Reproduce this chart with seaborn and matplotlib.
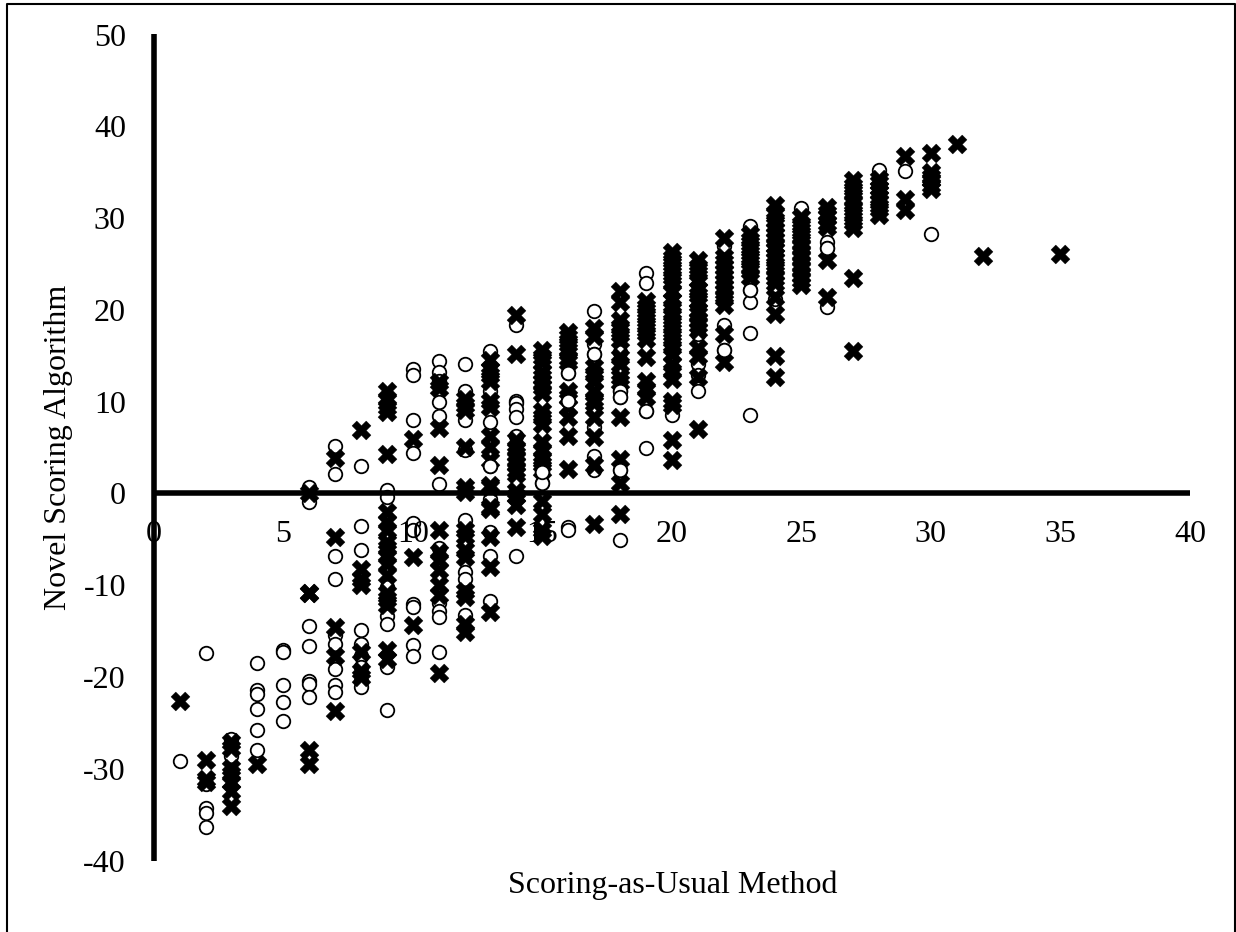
import matplotlib
matplotlib.use("Agg")
import pandas as pd
import seaborn as sns
import matplotlib.pyplot as plt
from matplotlib.lines import Line2D

# x scores, one entry per column of points
scores = list(range(1, 33)) + [35]

# novel algorithm values, column by column
circle_vals = [
    [-29.2],
    [-17.4, -31.7, -34.3, -34.8, -36.3],
    [-26.8, -28.6],
    [-18.5, -21.4, -21.9, -23.5, -25.8, -28.0],
    [-17.1, -17.3, -20.9, -22.7, -24.8],
    [0.7, -0.9, -14.4, -16.6, -20.4, -20.8, -22.2],
    [5.2, 2.1, -6.8, -9.3, -15.4, -16.4, -19.1, -20.9, -21.6],
    [3.0, -3.5, -6.2, -14.9, -16.4, -17.7, -18.9, -20.4, -21.1],
    [0.4, -0.4, -10.2, -13.4, -14.2, -18.9, -23.6],
    [13.5, 12.9, 8.0, 4.4, -3.2, -4.0, -12.0, -12.4, -16.5, -17.7],
    [14.4, 13.2, 12.3, 10.0, 8.4, 1.0, -5.9, -11.9, -12.8, -13.5, -17.3],
    [14.1, 11.2, 8.0, 4.7, -2.9, -8.6, -9.3, -13.3],
    [15.5, 11.2, 7.8, 3.0, -0.6, -4.2, -6.8, -11.7],
    [18.3, 10.1, 9.8, 9.2, 8.3, 6.3, -6.8],
    [4.1, 2.3, 1.1],
    [13.1, 10.1, -3.7, -4.0],
    [19.9, 16.3, 15.2, 7.2, 4.1, 2.5],
    [15.4, 11.2, 10.5, 2.5, -5.1],
    [24.0, 22.9, 9.0, 5.0],
    [8.5],
    [17.4, 14.1, 12.9, 11.2],
    [27.0, 18.3, 15.6],
    [29.1, 22.2, 20.8, 17.5, 8.5],
    [22.9, 22.0, 21.2],
    [31.1, 29.6],
    [27.4, 26.7, 20.3],
    [],
    [35.2],
    [35.1],
    [28.3],
    [],
    [],
    [],
]

cross_vals = [
    [-22.6],
    [-29.0, -31.1, -31.5],
    [-27.1, -27.7, -29.9, -30.6, -31.5, -32.4, -34.1],
    [-29.5],
    [],
    [0.0, -10.9, -10.9, -28.0, -29.5],
    [3.9, -4.7, -14.6, -17.7, -23.7],
    [6.9, -8.2, -9.3, -10.0, -17.3, -19.3, -20.0],
    [11.2, 10.3, 9.4, 8.9, 4.3, -2.0, -3.1, -4.0, -5.3, -6.0, -6.8, -7.7, -8.9,
     -10.8, -11.5, -12.2, -17.1, -18.0],
    [5.9, -6.9, -14.3],
    [12.1, 11.5, 7.1, 3.1, -4.0, -6.4, -7.3, -8.4, -10.0, -11.1, -19.6],
    [10.3, 9.6, 9.1, 5.1, 0.7, 0.1, -4.0, -4.6, -6.2, -6.9, -10.6, -11.3, -14.2, -15.1],
    [14.5, 13.6, 12.9, 12.3, 10.1, 9.4, 6.3, 5.1, 3.6, 0.9, 0.7, -1.5, -1.7, -4.8, -8.0, -12.9],
    [19.4, 15.2, 5.8, 5.0, 4.3, 3.7, 3.2, 2.6, 2.1, 0.3, -0.3, -1.3, -3.7],
    [15.6, 14.9, 14.3, 13.2, 12.7, 12.1, 11.6, 10.9, 9.0, 8.3, 7.6, 5.6, 4.7, 3.9, 3.2, 2.6,
     -0.8, -2.2, -4.0, -4.6],
    [17.6, 17.0, 16.3, 15.6, 14.7, 14.3, 11.2, 10.5, 9.4, 8.3, 6.3, 2.7],
    [18.0, 17.2, 13.8, 13.0, 12.3, 11.2, 10.3, 9.8, 8.3, 6.1, 3.1, -3.3],
    [22.0, 20.9, 18.9, 18.1, 17.4, 16.7, 14.9, 14.1, 12.7, 12.1, 8.3, 3.8, 1.1, -2.2],
    [21.0, 20.3, 19.6, 18.9, 18.2, 17.5, 16.8, 14.9, 12.3, 11.4, 10.5],
    [26.3, 25.6, 25.0, 24.3, 23.6, 22.9, 22.0, 21.1, 20.3, 19.6, 18.8, 18.1, 17.4, 16.7, 15.9,
     15.2, 14.1, 13.3, 12.5, 10.1, 9.6, 5.8, 3.6],
    [25.4, 24.7, 24.0, 23.2, 22.3, 21.6, 21.0, 20.0, 19.5, 18.9, 18.3, 17.8, 15.8, 15.0, 12.7, 7.0],
    [27.8, 25.8, 25.2, 24.7, 24.1, 23.6, 23.0, 22.5, 21.9, 21.3, 20.5, 17.4, 14.3],
    [28.3, 27.6, 26.9, 26.2, 25.5, 24.8, 24.2, 23.6],
    [31.4, 30.6, 29.8, 29.2, 28.7, 28.1, 27.6, 27.0, 26.5, 26.0, 25.4, 24.7, 24.0, 23.5, 22.9,
     21.4, 19.6, 15.0, 12.7],
    [30.1, 29.4, 28.7, 28.0, 27.4, 26.8, 26.2, 25.6, 25.0, 24.4, 23.8, 23.2, 22.7],
    [31.2, 30.6, 30.1, 29.5, 29.0, 25.4, 21.4],
    [34.1, 33.5, 32.8, 32.2, 31.6, 31.0, 30.3, 29.6, 28.9, 23.5, 15.5],
    [34.3, 33.8, 33.3, 32.8, 32.3, 31.7, 31.0, 30.3],
    [36.8, 32.1, 30.9],
    [37.1, 35.0, 34.5, 34.1, 33.6, 33.2],
    [38.1],
    [25.9],
    [26.1],
]

# circles that sit in front of the crosses
front_x = [13, 15, 15, 16, 16, 17, 18, 18, 18, 19, 22, 26, 23]
front_y = [3.0, 1.1, 2.3, 13.1, 10.1, 15.2, 11.2, 10.5, 2.5, 9.0, 15.6, 26.7, 22.2]

x_ticks = [0, 5, 10, 15, 20, 25, 30, 35, 40]
y_ticks = [-40, -30, -20, -10, 0, 10, 20, 30, 40, 50]

circles = pd.DataFrame({"x": scores, "y": circle_vals}).explode("y").dropna()
crosses = pd.DataFrame({"x": scores, "y": cross_vals}).explode("y").dropna()
circles["y"] = circles["y"].astype(float)
crosses["y"] = crosses["y"].astype(float)
front = pd.DataFrame({"x": front_x, "y": front_y})

sns.set_style("white")
plt.rcParams["font.family"] = ["Liberation Serif", "DejaVu Serif"]
plt.rcParams["axes.unicode_minus"] = False

fig = plt.figure(figsize=(12.36, 9.32), dpi=100)
ax = fig.add_axes([153.7 / 1236, 1 - 860.5 / 932, 1036.3 / 1236, 826 / 932])

circle_style = dict(marker="o", s=95, color="white", edgecolor="black", linewidth=1.3)
sns.scatterplot(data=circles, x="x", y="y", ax=ax, **circle_style)
sns.scatterplot(data=crosses, x="x", y="y", marker="X", s=185, color="black",
                edgecolor="black", linewidth=0.3, ax=ax)
sns.scatterplot(data=front, x="x", y="y", ax=ax, **circle_style)

ax.set_xlim(0, 40)
ax.set_ylim(-40, 50)
ax.set_xticks(x_ticks)
ax.set_yticks(y_ticks)
ax.set_axisbelow(False)
ax.tick_params(axis="x", length=0, pad=19, labelsize=23, colors="black")
ax.tick_params(axis="y", length=0, pad=20, labelsize=23, colors="black")

for side in ["top", "right"]:
    ax.spines[side].set_visible(False)
ax.spines["bottom"].set_position(("data", 0))
for side in ["left", "bottom"]:
    ax.spines[side].set_linewidth(4)
    ax.spines[side].set_color("black")
    ax.spines[side].set_capstyle("butt")

ax.set_xlabel("Scoring-as-Usual Method", fontsize=23, color="black")
ax.set_ylabel("Novel Scoring Algorithm", fontsize=23, color="black")
ax.xaxis.set_label_coords(0.5005, -0.03)
ax.yaxis.set_label_coords(-0.0916, 0.5)
ax.xaxis.label.set_va("center")
ax.yaxis.label.set_va("center")

# thin frame around the chart, open at the bottom edge
fx0, fx1 = 7 / 1236, 1235 / 1236
fy0, fy1 = 0, 1 - 4 / 932
fig.add_artist(Line2D([fx0, fx0, fx1, fx1], [fy0, fy1, fy1, fy0], color="black", linewidth=1.5))

fig.savefig("out.png", dpi=100)
